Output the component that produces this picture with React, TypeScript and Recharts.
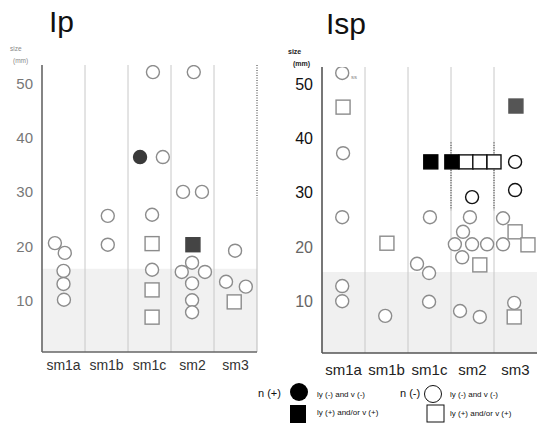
import { ScatterChart, Scatter, XAxis, YAxis, ReferenceArea, ReferenceLine } from 'recharts'

// column labels and axis ticks shared by both panels
const categories = ['sm1a', 'sm1b', 'sm1c', 'sm2', 'sm3']
const xTicks = [0.5, 1.5, 2.5, 3.5, 4.5]
const yTicks = [10, 20, 30, 40, 50]
const dividers = [1, 2, 3, 4]

type Pt = { x: number; y: number }

// Ip panel (x = column position, y = size in mm)
const ipOpenCircles: Pt[] = [
  { x: 0.3, y: 20.7 }, { x: 0.53, y: 18.9 }, { x: 0.5, y: 15.6 }, { x: 0.5, y: 13.2 }, { x: 0.51, y: 10.3 },
  { x: 1.53, y: 25.7 }, { x: 1.53, y: 20.4 },
  { x: 2.58, y: 52.1 }, { x: 2.81, y: 36.5 }, { x: 2.56, y: 25.9 }, { x: 2.56, y: 15.8 },
  { x: 3.53, y: 52.1 }, { x: 3.28, y: 30.1 }, { x: 3.72, y: 30.1 }, { x: 3.49, y: 17.1 }, { x: 3.25, y: 15.4 },
  { x: 3.79, y: 15.4 }, { x: 3.49, y: 13.3 }, { x: 3.49, y: 10.2 }, { x: 3.49, y: 8.0 },
  { x: 4.49, y: 19.3 }, { x: 4.28, y: 13.6 }, { x: 4.74, y: 12.7 },
]
const ipFilledCircles: Pt[] = [{ x: 2.28, y: 36.5 }]
const ipOpenSquares: Pt[] = [
  { x: 2.56, y: 20.6 }, { x: 2.56, y: 12.1 }, { x: 2.56, y: 7.1 }, { x: 4.47, y: 9.9 },
]
const ipFilledSquares: Pt[] = [{ x: 3.51, y: 20.4 }]

// Isp panel
const ispOpenCircles: Pt[] = [
  { x: 0.47, y: 52.2 }, { x: 0.49, y: 37.4 }, { x: 0.47, y: 25.6 }, { x: 0.47, y: 12.9 }, { x: 0.47, y: 10.1 },
  { x: 1.47, y: 7.4 },
  { x: 2.51, y: 25.6 }, { x: 2.21, y: 17.0 }, { x: 2.49, y: 15.3 }, { x: 2.49, y: 10.0 },
  { x: 3.44, y: 25.6 }, { x: 3.28, y: 22.9 }, { x: 3.09, y: 20.6 }, { x: 3.49, y: 20.6 }, { x: 3.84, y: 20.6 },
  { x: 3.26, y: 18.2 }, { x: 3.21, y: 8.3 }, { x: 3.67, y: 7.2 },
  { x: 4.21, y: 25.4 }, { x: 4.21, y: 20.6 }, { x: 4.47, y: 9.8 },
]
const ispInkCircles: Pt[] = [{ x: 3.49, y: 29.3 }, { x: 4.49, y: 35.8 }, { x: 4.49, y: 30.6 }]
const ispOpenSquares: Pt[] = [
  { x: 0.49, y: 45.9 }, { x: 1.51, y: 20.8 }, { x: 3.67, y: 16.8 },
  { x: 4.49, y: 22.9 }, { x: 4.79, y: 20.5 }, { x: 4.47, y: 7.2 },
]
const ispInkSquares: Pt[] = [{ x: 3.35, y: 35.8 }, { x: 3.67, y: 35.8 }, { x: 4.0, y: 35.8 }]
const ispFilledSquares: Pt[] = [{ x: 2.53, y: 35.8 }, { x: 3.02, y: 35.8 }]
const ispGreySquares: Pt[] = [{ x: 4.51, y: 46.1 }]

const FONT = '"Liberation Sans", Arial, sans-serif'

const circle = (stroke: string, fill: string) => (p: any) =>
  <circle cx={p.cx} cy={p.cy} r={6.5} stroke={stroke} strokeWidth={1.4} fill={fill} />

const square = (stroke: string, fill: string) => (p: any) =>
  <rect x={p.cx - 7} y={p.cy - 7} width={14} height={14} stroke={stroke} strokeWidth={1.4} fill={fill} />

const GREY = '#8c8c8c'
const INK = '#111'

function xTick(dy: number, size: number, color: string) {
  return (p: any) => (
    <text x={p.x} y={p.y + dy} textAnchor="middle" fontFamily={FONT} fontSize={size} fill={color}>
      {categories[Math.floor(p.payload.value)]}
    </text>
  )
}

function yTick(dark: boolean) {
  return (p: any) => (
    <text x={p.x - 9} y={p.y + 5} textAnchor="end" fontFamily={FONT} fontSize={dark ? 16 : 15}
      fill={dark ? (p.payload.value >= 30 ? '#111' : '#666') : '#777'}>
      {p.payload.value}
    </text>
  )
}

export default function App() {
  return (
    <div style={{ position: 'absolute', left: 0, top: 0, width: 538, height: 424, background: '#fff', overflow: 'hidden' }}>

      {/* Ip */}
      <div style={{ position: 'absolute', left: 0, top: 0 }}>
        <ScatterChart width={270} height={424} margin={{ top: 65, right: 13, bottom: 42, left: 0 }}>
          <XAxis type="number" dataKey="x" domain={[0, 5]} ticks={xTicks} interval={0} allowDataOverflow
            height={30} tickLine={false} tickSize={0} tickMargin={0} axisLine={{ stroke: '#666', strokeWidth: 1.6 }}
            tick={xTick(18, 14, '#333')} />
          <YAxis type="number" dataKey="y" domain={[0.7, 53.4]} ticks={yTicks} interval={0} allowDataOverflow
            width={42} tickLine={false} tickSize={0} tickMargin={0} axisLine={{ stroke: '#666', strokeWidth: 1.6 }}
            tick={yTick(false)} />
          <ReferenceArea x1={0} x2={5} y1={0.7} y2={16} fill="#f1f1f1" fillOpacity={1} stroke="none" />
          {dividers.map(d => <ReferenceLine key={d} x={d} stroke="#c8c8c8" strokeWidth={1} />)}
          <ReferenceLine segment={[{ x: 5, y: 53.4 }, { x: 5, y: 29 }]} stroke="#333" strokeDasharray="1 1.5" />
          <ReferenceLine segment={[{ x: 5, y: 29 }, { x: 5, y: 0.7 }]} stroke="#bbb" />
          <Scatter data={ipOpenCircles} shape={circle(GREY, '#fff')} isAnimationActive={false} />
          <Scatter data={ipFilledCircles} shape={circle('#3a3a3a', '#3a3a3a')} isAnimationActive={false} />
          <Scatter data={ipOpenSquares} shape={square(GREY, '#fff')} isAnimationActive={false} />
          <Scatter data={ipFilledSquares} shape={square('#444', '#444')} isAnimationActive={false} />
        </ScatterChart>
      </div>

      {/* Isp */}
      <div style={{ position: 'absolute', left: 270, top: 0 }}>
        <ScatterChart width={268} height={424} margin={{ top: 67, right: 1, bottom: 41, left: 0 }}>
          <XAxis type="number" dataKey="x" domain={[0, 5]} ticks={xTicks} interval={0} allowDataOverflow
            height={30} tickLine={false} tickSize={0} tickMargin={0} axisLine={{ stroke: '#555', strokeWidth: 1.6 }}
            tick={xTick(22, 15, '#222')} />
          <YAxis type="number" dataKey="y" domain={[0.55, 53.3]} ticks={yTicks} interval={0} allowDataOverflow
            width={52} tickLine={false} tickSize={0} tickMargin={0} axisLine={{ stroke: '#555', strokeWidth: 1.6 }}
            tick={yTick(true)} />
          <ReferenceArea x1={0} x2={5} y1={0.55} y2={15.5} fill="#f0f0f0" fillOpacity={1} stroke="none" />
          {dividers.map(d => <ReferenceLine key={d} x={d} stroke="#c8c8c8" strokeWidth={1} />)}
          <ReferenceLine segment={[{ x: 3, y: 39.4 }, { x: 3, y: 26.9 }]} stroke="#222" strokeDasharray="1 1.5" />
          <ReferenceLine segment={[{ x: 4, y: 39.4 }, { x: 4, y: 26.9 }]} stroke="#222" strokeDasharray="1 1.5" />
          <Scatter data={ispOpenCircles} shape={circle(GREY, '#fff')} isAnimationActive={false} />
          <Scatter data={ispInkCircles} shape={circle(INK, '#fff')} isAnimationActive={false} />
          <Scatter data={ispOpenSquares} shape={square(GREY, '#fff')} isAnimationActive={false} />
          <Scatter data={ispInkSquares} shape={square(INK, '#fff')} isAnimationActive={false} />
          <Scatter data={ispFilledSquares} shape={square('#000', '#000')} isAnimationActive={false} />
          <Scatter data={ispGreySquares} shape={square('#555', '#555')} isAnimationActive={false} />
        </ScatterChart>
      </div>

      {/* titles, axis captions, legend */}
      <svg width={538} height={424} style={{ position: 'absolute', left: 0, top: 0, pointerEvents: 'none' }}>
        <g fontFamily={FONT}>
          <text x={49} y={32} fontSize={30} fill="#111">Ip</text>
          <text x={326} y={34} fontSize={30} fill="#111">Isp</text>

          <text x={10} y={51} fontSize={6.5} fill="#888">size</text>
          <text x={13} y={63} fontSize={6.5} fill="#888">(mm)</text>
          <text x={288} y={54} fontSize={7} fontWeight="bold" fill="#222">size</text>
          <text x={293} y={66} fontSize={7} fontWeight="bold" fill="#222">(mm)</text>
          <text x={351} y={79} fontSize={6} fill="#888">ss</text>

          <text x={258} y={397} fontSize={11} fill="#111">n (+)</text>
          <circle cx={299} cy={392} r={9} fill="#000" />
          <text x={317} y={397} fontSize={8} fill="#111">ly (-) and v (-)</text>
          <rect x={290} y={405} width={16} height={18} fill="#000" />
          <text x={317} y={415} fontSize={8} fill="#111">ly (+) and/or v (+)</text>

          <text x={400} y={397} fontSize={11} fill="#111">n (-)</text>
          <circle cx={433} cy={394} r={8.5} fill="#fff" stroke="#111" strokeWidth={1} />
          <text x={450} y={397} fontSize={8} fill="#111">ly (-) and v (-)</text>
          <rect x={427} y={405} width={17} height={17} fill="#fff" stroke="#111" strokeWidth={1} />
          <text x={450} y={416} fontSize={8} fill="#111">ly (+) and/or v (+)</text>
        </g>
      </svg>
    </div>
  )
}
